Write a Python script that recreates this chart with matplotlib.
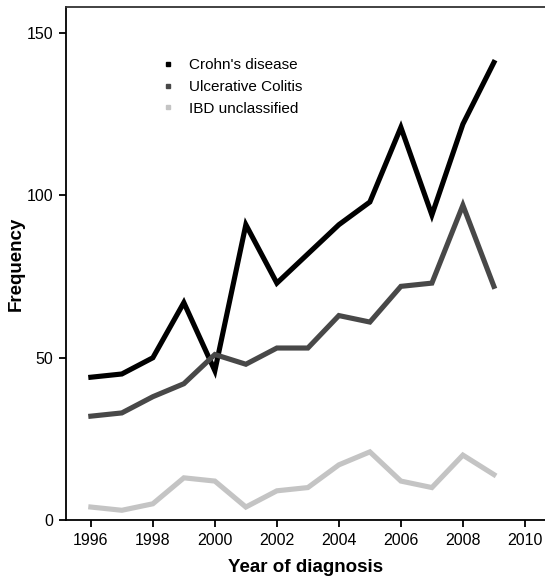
import matplotlib
matplotlib.use("Agg")
import matplotlib.pyplot as plt
from matplotlib.lines import Line2D

plt.rcParams['font.family'] = ['Liberation Sans', 'DejaVu Sans']

years = [1996, 1997, 1998, 1999, 2000, 2001, 2002, 2003, 2004, 2005, 2006, 2007, 2008, 2009]
crohns = [44, 45, 50, 67, 46, 91, 73, 82, 91, 98, 121, 94, 122, 141]
ulcerative_colitis = [32, 33, 38, 42, 51, 48, 53, 53, 63, 61, 72, 73, 97, 72]
ibd_unclassified = [4, 3, 5, 13, 12, 4, 9, 10, 17, 21, 12, 10, 20, 14]

series_names = ["Crohn's disease", "Ulcerative Colitis", "IBD unclassified"]
series_colors = ["#000000", "#484848", "#c4c4c4"]
x_ticks = [1996, 1998, 2000, 2002, 2004, 2006, 2008, 2010]
y_ticks = [0, 50, 100, 150]

fig = plt.figure(figsize=(5.45, 5.82), dpi=100)
ax = fig.add_axes([0.1206, 0.1065, 0.8795, 0.881])

for vals, color in zip([crohns, ulcerative_colitis, ibd_unclassified], series_colors):
    ax.plot(years, vals, color=color, linewidth=3.7, solid_joinstyle='miter')

ax.set_xlim(1995.19, 2010.65)
ax.set_ylim(0, 158)
ax.set_xticks(x_ticks)
ax.set_yticks(y_ticks)
ax.tick_params(direction='out', length=5, width=1.3, labelsize=11.5, pad=4, colors='#000000')

ax.spines['right'].set_visible(False)
for side in ('left', 'bottom', 'top'):
    ax.spines[side].set_linewidth(1.3)
ax.spines['top'].set_color('#333333')

ax.set_xlabel("Year of diagnosis", fontsize=13.5, fontweight='bold', labelpad=8)
ax.set_ylabel("Frequency", fontsize=13.5, fontweight='bold', labelpad=1)

handles = [Line2D([], [], linestyle='none', marker='s', markersize=3.5,
                  markerfacecolor=c, markeredgecolor=c) for c in series_colors]
ax.legend(handles, series_names, loc='upper left', bbox_to_anchor=(0.1725, 0.927),
          frameon=False, fontsize=11, handlelength=0.8, handletextpad=0.95,
          labelspacing=0.5)

fig.savefig("out.png", dpi=100)
